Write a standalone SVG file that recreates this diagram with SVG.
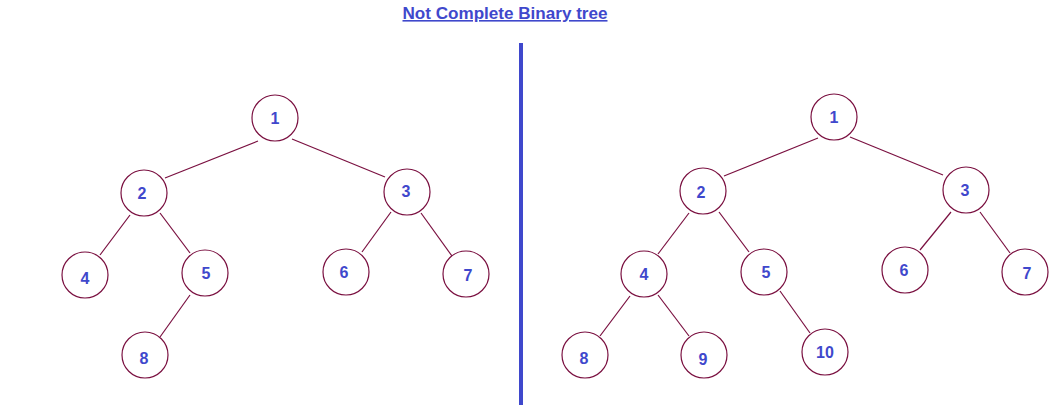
<svg xmlns="http://www.w3.org/2000/svg" width="1056" height="405" viewBox="0 0 1056 405">
<style>
.n circle{fill:#fff;stroke:#7a1040;stroke-width:1.2}
.n text{font-family:"Liberation Sans",Arial,sans-serif;font-weight:bold;font-size:16px;fill:#3f48cc;text-anchor:middle}
#edges line{stroke:#7a1040;stroke-width:1.2}
.title{font-family:"Liberation Sans",Arial,sans-serif;font-weight:bold;font-size:16px;fill:#3f48cc;text-anchor:middle;text-decoration:underline}
</style>
<rect width="1056" height="405" fill="#fff"/>
<text class="title" x="505" y="19" textLength="205" lengthAdjust="spacingAndGlyphs">Not Complete Binary tree</text>
<rect id="divider" x="519" y="43" width="4" height="362" fill="#3f48cc"/>
<g id="edges">
<line x1="258" y1="141" x2="165" y2="178"/>
<line x1="292" y1="139" x2="385" y2="177"/>
<line x1="130" y1="215" x2="100" y2="255"/>
<line x1="160" y1="213" x2="190" y2="253"/>
<line x1="391" y1="212" x2="362" y2="252"/>
<line x1="421" y1="213" x2="452" y2="256"/>
<line x1="190" y1="295" x2="160" y2="337"/>
<line x1="818" y1="138" x2="724" y2="176"/>
<line x1="850" y1="137" x2="943" y2="175"/>
<line x1="689" y1="213" x2="658" y2="254"/>
<line x1="719" y1="212" x2="749" y2="252"/>
<line x1="951" y1="212" x2="920" y2="250"/>
<line x1="980" y1="212" x2="1010" y2="253"/>
<line x1="630" y1="296" x2="600" y2="336"/>
<line x1="658" y1="295" x2="689" y2="336"/>
<line x1="780" y1="291" x2="810" y2="333"/>
</g>
<g id="L1" class="n"><circle cx="275" cy="118" r="23"/><text x="275" y="124">1</text></g>
<g id="L2" class="n"><circle cx="144" cy="193" r="23"/><text x="142" y="199">2</text></g>
<g id="L3" class="n"><circle cx="407" cy="192" r="23"/><text x="406" y="197">3</text></g>
<g id="L4" class="n"><circle cx="85" cy="275" r="23"/><text x="85" y="284">4</text></g>
<g id="L5" class="n"><circle cx="205" cy="273" r="23"/><text x="206" y="279">5</text></g>
<g id="L6" class="n"><circle cx="346" cy="272" r="23"/><text x="344" y="278">6</text></g>
<g id="L7" class="n"><circle cx="466" cy="274" r="23"/><text x="468" y="281">7</text></g>
<g id="L8" class="n"><circle cx="145" cy="355" r="23"/><text x="144" y="364">8</text></g>
<g id="R1" class="n"><circle cx="834" cy="117" r="23"/><text x="834" y="123">1</text></g>
<g id="R2" class="n"><circle cx="703" cy="191" r="23"/><text x="701" y="198">2</text></g>
<g id="R3" class="n"><circle cx="966" cy="190" r="23"/><text x="965" y="196">3</text></g>
<g id="R4" class="n"><circle cx="644" cy="274" r="23"/><text x="644" y="280">4</text></g>
<g id="R5" class="n"><circle cx="764" cy="272" r="23"/><text x="766" y="278">5</text></g>
<g id="R6" class="n"><circle cx="905" cy="270" r="23"/><text x="904" y="276">6</text></g>
<g id="R7" class="n"><circle cx="1025" cy="272" r="23"/><text x="1027" y="279">7</text></g>
<g id="R8" class="n"><circle cx="585" cy="355" r="23"/><text x="584" y="364">8</text></g>
<g id="R9" class="n"><circle cx="704" cy="355" r="23"/><text x="703" y="365">9</text></g>
<g id="R10" class="n"><circle cx="825" cy="352" r="23"/><text x="825" y="358">10</text></g>
</svg>
